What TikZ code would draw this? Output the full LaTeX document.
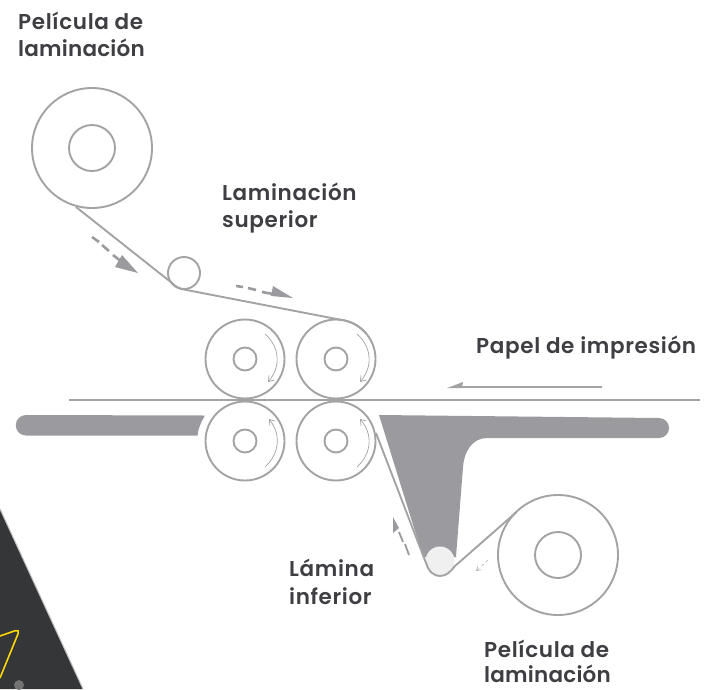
\documentclass[tikz,border=0pt]{standalone}
\usetikzlibrary{arrows.meta}
\usepackage{fontspec}
\setmainfont{Poppins}[BoldFont={Poppins SemiBold},LetterSpace=3]
\definecolor{linegray}{HTML}{A3A3A6}
\definecolor{solidgray}{HTML}{9B9A9E}
\definecolor{textgray}{HTML}{3F3E42}
\definecolor{phone}{HTML}{343637}
\newcommand{\tightword}[1]{{\addfontfeature{LetterSpace=1}#1}}
\tikzset{
  roll/.style={draw=linegray,line width=1.9pt,fill=white},
  belt/.style={draw=linegray,line width=1.9pt},
  dashseg/.style={draw=solidgray,line width=2.6pt},
  rot/.style={draw=linegray,line width=0.7pt},
  lbl/.style={text=textgray,font=\bfseries\fontsize{21.5}{27}\selectfont,align=left,inner sep=0pt,anchor=base west},
}
\begin{document}
\begin{tikzpicture}[x=1pt,y=-1pt]
\useasboundingbox (0,0) rectangle (715,689);
% phone in the background
\fill[phone] (0,509) -- (83,689) -- (0,689) -- cycle;
\draw[black!25,line width=1pt] (0,509) -- (83,689);
\draw[yellow!75!orange,line width=1.6pt,rounded corners=5pt] (0,636) -- (20,629) -- (0,678);
\fill[black!55] (19,685) circle (5);
% solid bars
\fill[solidgray] (26,415) -- (205,415.5) .. controls (201,422) and (198,429) .. (197.5,435.5) -- (26,435.5) arc[start angle=90,end angle=270,radius=10.25] -- cycle;
\fill[solidgray] (379,415) -- (659,418) arc[start angle=-90,end angle=90,radius=10] -- (487,438) .. controls (472,438) and (464,452) .. (463,467) -- (456,557) -- (423,557) -- cycle;
% paper line
\draw[linegray,line width=1.6pt] (69,400) -- (700,400);
% rollers
\foreach \n/\x/\y in {a/245/359,b/336/359,c/245/441,d/336/441}{
  \node[roll,circle,minimum size=79pt,inner sep=0pt] (\n) at (\x,\y) {};
  \node[roll,circle,minimum size=23pt,inner sep=0pt] (\n i) at (\x,\y) {};
}
% supply rolls
\node[roll,circle,minimum size=120pt,inner sep=0pt] (top) at (92,148) {};
\node[roll,circle,minimum size=46pt,inner sep=0pt] (topi) at (92,148) {};
\node[roll,circle,minimum size=120pt,inner sep=0pt] (bot) at (558,555) {};
\node[roll,circle,minimum size=46pt,inner sep=0pt] (boti) at (558,555) {};
\node[roll,circle,minimum size=32pt,inner sep=0pt] (small) at (184,273) {};
\node[draw=none,fill=black!6,circle,minimum size=29pt,inner sep=0pt] (guide) at (440,561) {};
% film paths
\draw[belt] (76,207) -- (172,283) .. controls (176,287) and (180,289) .. (184,289.5) -- (340.1,319.7) arc[start angle=-84,end angle=-40,radius=39.5];
\draw[belt] (376,433) -- (426,563) .. controls (429,572) and (434,576) .. (440,576) .. controls (447,576) and (451,571) .. (455,566) -- (516,512.5);
% rotation arrows
\draw[rot,-{Straight Barb[length=5pt,width=7pt]}] (265,334) .. controls (280,347) and (281,367) .. (268,382);
\draw[rot,-{Straight Barb[length=5pt,width=7pt]}] (357,334) .. controls (372,347) and (373,367) .. (360,382);
\draw[rot,-{Straight Barb[length=5pt,width=7pt]}] (265,467) .. controls (280,453) and (281,434) .. (269,419);
\draw[rot,-{Straight Barb[length=5pt,width=7pt]}] (357,467) .. controls (372,453) and (373,434) .. (360,419);
% dashed arrows
\draw[dashseg] (92,237) -- (99,242) (102,245) -- (109,251) (113,255) -- (122,262);
\fill[solidgray] (138,273) -- (115,267) -- (122,255) -- cycle;
\draw[dashseg] (236,286) -- (243,287) (248,288) -- (256,290) (262,292) -- (273,294);
\fill[solidgray] (293,298) -- (273,286) -- (271,296) -- cycle;
\draw[dashseg,line width=1.8pt] (399,532) -- (403,542) (405,544) -- (409,555);
\fill[solidgray] (393,517) -- (393,533) -- (399,528) -- cycle;
\draw[black!30,line width=0.6pt,dashed,-{Straight Barb[length=4pt,width=5pt]}] (488,560) -- (476,571);
% paper arrow
\draw[linegray,line width=1.5pt] (602,387) -- (455,387);
\fill[linegray] (447,388) -- (463,382) -- (462,388) -- cycle;
% labels
\node[lbl] (l1a) at (18,29) {Película de};
\node[lbl] (l1b) at (18,56) {\tightword{laminación}};
\node[lbl] (l2a) at (222,200) {Laminación};
\node[lbl] (l2b) at (222,227) {superior};
\node[lbl] (l3) at (476,353) {Papel de impresión};
\node[lbl] (l4a) at (289,576) {Lámina};
\node[lbl] (l4b) at (289,604) {inferior};
\node[lbl] (l5a) at (484,657) {Película de};
\node[lbl] (l5b) at (484,682.5) {\tightword{laminación}};
\end{tikzpicture}
\end{document}
